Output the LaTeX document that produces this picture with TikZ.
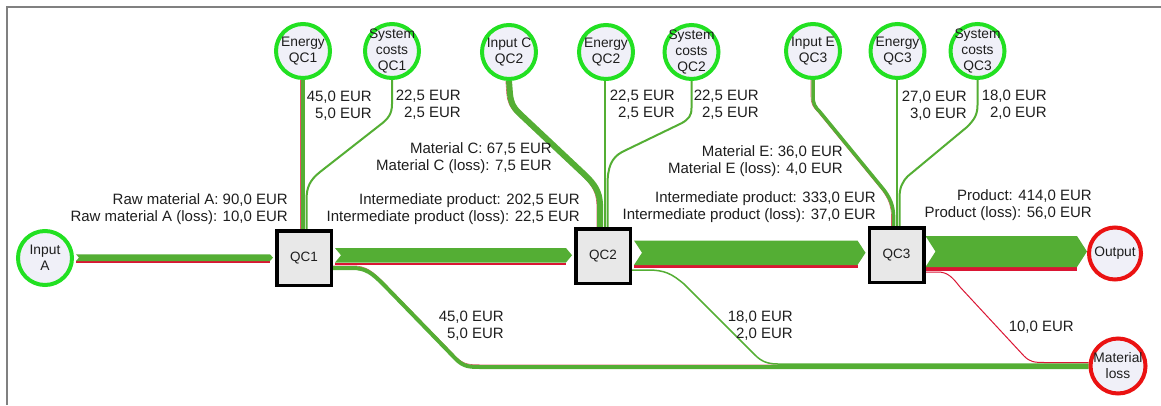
\documentclass[tikz,border=0pt]{standalone}
\usepackage{fontspec}
\setmainfont{Liberation Sans}
\usetikzlibrary{calc,backgrounds}

\definecolor{flowgreen}{RGB}{84,174,52}
\definecolor{flowred}{RGB}{218,22,52}
\definecolor{ringgreen}{RGB}{34,224,34}
\definecolor{ringred}{RGB}{234,18,18}
\definecolor{discfill}{RGB}{240,240,248}
\definecolor{boxfill}{RGB}{232,232,232}
\definecolor{framegray}{RGB}{128,128,128}
\definecolor{ink}{RGB}{30,30,30}

\tikzset{
  disc/.style={circle, fill=discfill, line width=4pt, minimum size=54pt, inner sep=0pt,
    label={[disctext]center:#1}},
  source/.style={disc={#1}, draw=ringgreen},
  sink/.style={disc={#1}, draw=ringred},
  disctext/.style={font=\fontsize{13.8}{16}\selectfont, align=center, text=ink, inner sep=0pt},
  qcbox/.style={rectangle, draw=black, fill=boxfill, line width=3.5pt, minimum size=54.5pt,
    inner sep=0pt, font=\fontsize{13.5}{16}\selectfont, text=ink},
  amount/.style={font=\fontsize{15}{17}\selectfont, align=right, inner sep=0pt, anchor=east, text=ink},
  gflow/.style={draw=flowgreen, line width=#1, line cap=butt},
  redleft/.style={preaction={draw=flowred!75, line width=0.6pt, transform canvas={xshift=-#1}}},
  redtop/.style={preaction={draw=flowred!75, line width=0.6pt, transform canvas={yshift=#1}}},
}

% Sankey band between two nodes: #3 top, #4 bottom of the green part,
% #5 bottom of the red (loss) strip, #6 depth of notch/tip, #7 gap to the nodes
\newcommand\band[7]{%
  \coordinate (bT) at (0,#3);
  \coordinate (bG) at (0,#4);
  \coordinate (bR) at (0,#5);
  \coordinate (bM) at (0,{(#3+#4)/2});
  \fill[flowred] ($(bG -| #1.east)+(#7,0)$) rectangle ($(bR -| #2.west)-({#6+#7},0)$);
  \fill[flowgreen] ($(bT -| #1.east)+(#7,0)$) -- ($(bT -| #2.west)-({#6+#7},0)$)
    -- ($(bM -| #2.west)-(#7,0)$) -- ($(bG -| #2.west)-({#6+#7},0)$)
    -- ($(bG -| #1.east)+(#7,0)$) -- ($(bM -| #1.east)+({#6+#7},0)$) -- cycle;
}

\begin{document}
\begin{tikzpicture}[x=1pt,y=-1pt]
\useasboundingbox (0,0) rectangle (1161,405);
\draw[framegray, line width=1.5pt] (7,405) -- (7,7) -- (1161,7);

% sources, process steps and sinks
\node[source={Input\\A}] (inA) at (45,258) {};
\node[source={Energy\\QC1}] (ec1) at (303,51) {};
\node[source={System\\costs\\QC1}] (sc1) at (392,51) {};
\node[source={Input C\\QC2}] (ic2) at (509,52) {};
\node[source={Energy\\QC2}] (ec2) at (606,52) {};
\node[source={System\\costs\\QC2}] (sc2) at (691.5,52) {};
\node[source={Input E\\QC3}] (ie3) at (813,51) {};
\node[source={Energy\\QC3}] (ec3) at (897.5,51) {};
\node[source={System\\costs\\QC3}] (sc3) at (977.5,51) {};
\node[qcbox] (qc1) at (304,258) {QC1};
\node[qcbox] (qc2) at (603,256) {QC2};
\node[qcbox] (qc3) at (896.5,255) {QC3};
\node[sink={Output}, minimum size=52pt] (out) at (1115,253.5) {};
\node[sink={Material\\loss}, minimum size=55pt] (loss) at (1118,366) {};

\begin{pgfonlayer}{background}
% main material stream
\band{inA}{qc1}{254.3}{261}{262.5}{3}{2}
\band{qc1}{qc2}{248}{262.5}{264.7}{6}{2}
\band{qc2}{qc3}{240.5}{265}{268.3}{8}{2}
\band{qc3}{out}{236}{267}{271.3}{10}{0}

% inputs into QC1
\draw[gflow=4pt, redleft=2.3pt] (ec1.south) -- (ec1.south |- qc1.north);
\draw[gflow=2pt] (sc1.south) -- (392,104) .. controls (392,114) and (388,119) .. (380,125)
  -- (320,172) .. controls (310,180) and (306.5,187) .. (306.5,200) -- ($(qc1.north)+(2.5,0)$);

% inputs into QC2
\draw[gflow=6pt, redleft=3.2pt] (ic2.south) -- (510,94) .. controls (511,103) and (513,107) .. (519,113)
  -- (586,176) .. controls (595,185) and (599.5,192) .. (600,204) -- ($(qc2.north)+(-3,0)$);
\draw[gflow=2pt] ($(ec2.south)+(-1,0)$) -- ($(qc2.north)+(2,0)$);
\draw[gflow=2pt] (sc2.south) -- (691.5,108) .. controls (691.5,116) and (688.5,119) .. (682,123)
  -- (622,152) .. controls (611,158) and (607.5,168) .. (607.5,185) -- ($(qc2.north)+(4.5,0)$);

% inputs into QC3
\draw[gflow=3.5pt, redleft=2pt] (ie3.south) -- (813,96) .. controls (813,104) and (815,107) .. (820,112)
  -- (884,190) .. controls (890,198) and (893,205) .. (893.5,215) -- ($(qc3.north)+(-3,0)$);
\draw[gflow=2.5pt] ($(ec3.south)+(-0.5,0)$) -- ($(qc3.north)+(0.5,0)$);
\draw[gflow=2pt] (sc3.south) -- (977.5,105) .. controls (977.5,115) and (974,120) .. (967,127)
  -- (908,176) .. controls (902,182) and (899.5,188) .. (899.5,198) -- ($(qc3.north)+(3,0)$);

% material losses
\draw[gflow=4pt, redtop=2.2pt] ($(qc1.east)+(0,10)$) -- (352,268) .. controls (366,268) and (372,273) .. (384,285)
  -- (452,355) .. controls (462,366) and (466,367) .. (480,367) -- ($(loss.west)+(0,1)$);
\draw[gflow=1.5pt] ($(qc2.east)+(0,14)$) -- (648,270) .. controls (665,270) and (672,274) .. (684,284)
  -- (748,348) .. controls (758,358) and (762,364) .. (778,364) -- ($(loss.west)+(0,-2)$);
\draw[draw=flowred, line width=1pt] ($(qc3.east)+(0,17)$) -- (938,272) .. controls (948,272) and (953,278) .. (960,287)
  -- (1024,356) .. controls (1030,362) and (1034,362.5) .. (1045,362.5) -- ($(loss.west)+(0,-3.5)$);
\end{pgfonlayer}

% flow amounts
\node[amount] (l1) at (372,105.5) {45,0 EUR\\5,0 EUR};
\node[amount] (l2) at (461,104.5) {22,5 EUR\\2,5 EUR};
\node[amount] (l3) at (675,105) {22,5 EUR\\2,5 EUR};
\node[amount] (l4) at (759,105) {22,5 EUR\\2,5 EUR};
\node[amount] (l5) at (967,106) {27,0 EUR\\3,0 EUR};
\node[amount] (l6) at (1047,104.5) {18,0 EUR\\2,0 EUR};
\node[amount] (l7) at (552,158.5) {Material C: 67,5 EUR\\Material C (loss): 7,5 EUR};
\node[amount] (l8) at (843,161) {Material E: 36,0 EUR\\Material E (loss): 4,0 EUR};
\node[amount] (l9) at (288,209) {Raw material A: 90,0 EUR\\Raw material A (loss): 10,0 EUR};
\node[amount] (l10) at (580,209.5) {Intermediate product: 202,5 EUR\\Intermediate product (loss): 22,5 EUR};
\node[amount] (l11) at (876,207.5) {Intermediate product: 333,0 EUR\\Intermediate product (loss): 37,0 EUR};
\node[amount] (l12) at (1092,205.5) {Product: 414,0 EUR\\Product (loss): 56,0 EUR};
\node[amount] (l13) at (504,326) {45,0 EUR\\5,0 EUR};
\node[amount] (l14) at (793,326) {18,0 EUR\\2,0 EUR};
\node[amount] (l15) at (1074,327) {10,0 EUR};
\end{tikzpicture}
\end{document}
